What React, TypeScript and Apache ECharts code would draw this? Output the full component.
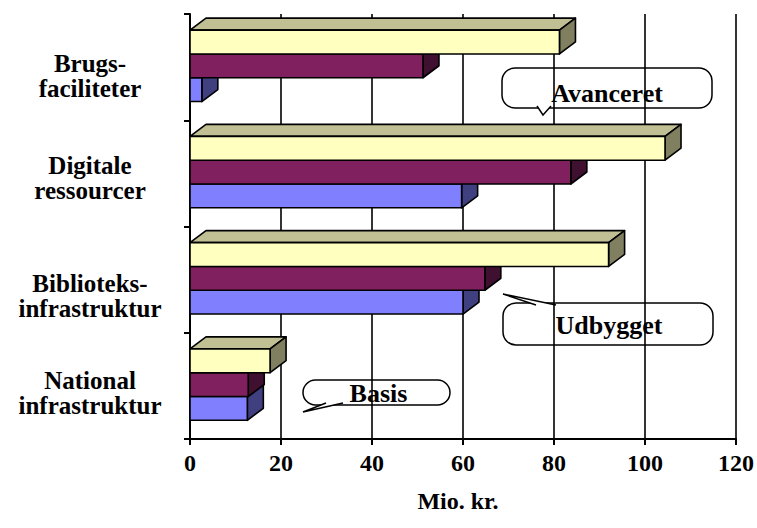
import React, { useEffect, useRef } from "react";
import * as echarts from "echarts";

// ---- data ----
const categories = [
  "National\ninfrastruktur",
  "Biblioteks-\ninfrastruktur",
  "Digitale\nressourcer",
  "Brugs-\nfaciliteter",
];
const basis = [12.6, 60, 59.7, 2.6];
const udbygget = [12.8, 64.8, 83.7, 51.2];
const avanceret = [17.6, 92, 104.4, 81.2];
const seriesNames = ["Basis", "Udbygget", "Avanceret"];
const xMin = 0;
const xMax = 120;
const xStep = 20;
const axisTitle = "Mio. kr.";

const FONT = "Liberation Serif";
// vertical label shift (px) per category, to mimic the original layout
const labelShift = [7, 16, 5, 9];

type Face = { front: string; top: string; side: string };

const makeRender = (slot: number, c: Face) => (params: any, api: any) => {
  const cat = api.value(0);
  const val = api.value(1);
  const start = api.coord([0, cat]);
  const end = api.coord([val, cat]);
  const bandH = api.size([0, 1])[1];
  const bandTop = start[1] - bandH / 2;
  const barH = bandH * 0.224;
  const y0 = bandTop + bandH * 0.152 + slot * barH;
  const y1 = y0 + barH;
  const x0 = start[0];
  const x1 = end[0];
  const dx = 16;
  const dy = 12;
  const st = { stroke: "#000", lineWidth: 1.6, lineJoin: "round" };
  return {
    type: "group",
    children: [
      {
        type: "polygon",
        shape: { points: [[x0, y0], [x0 + dx, y0 - dy], [x1 + dx, y0 - dy], [x1, y0]] },
        style: { fill: c.top, ...st },
      },
      {
        type: "polygon",
        shape: { points: [[x1, y0], [x1 + dx, y0 - dy], [x1 + dx, y1 - dy], [x1, y1]] },
        style: { fill: c.side, ...st },
      },
      {
        type: "rect",
        shape: { x: x0, y: y0, width: x1 - x0, height: y1 - y0 },
        style: { fill: c.front, ...st },
      },
    ],
  };
};

const callout = (
  box: { x: number; y: number; w: number; h: number },
  tail: number[][],
  label: string,
  tdx: number,
  tdy: number
) => {
  const [a, tip, b] = tail;
  return {
    type: "group",
    children: [
      {
        type: "rect",
        shape: { x: box.x, y: box.y, width: box.w, height: box.h, r: 13 },
        style: { fill: "none", stroke: "#000", lineWidth: 1.5 },
        z: 100,
      },
      {
        type: "polygon",
        shape: { points: [a, tip, b] },
        style: { fill: "#fff", stroke: "none" },
        z: 101,
      },
      {
        type: "polyline",
        shape: { points: [a, tip, b] },
        style: { fill: "none", stroke: "#000", lineWidth: 1.5 },
        z: 102,
      },
      {
        type: "text",
        x: box.x + box.w / 2 + tdx,
        y: box.y + box.h / 2 + tdy,
        style: {
          text: label,
          font: `bold 26px ${FONT}`,
          fill: "#000",
          textAlign: "center",
          textVerticalAlign: "middle",
        },
        z: 103,
      },
    ],
  };
};

export default function App() {
  const ref = useRef<HTMLDivElement>(null);
  useEffect(() => {
    if (!ref.current) return;
    const chart = echarts.init(ref.current, null, { renderer: "svg" });
    const faces: Face[] = [
      { front: "#8080FF", top: "#6060C0", side: "#404080" },
      { front: "#80205F", top: "#601848", side: "#401030" },
      { front: "#FFFFC0", top: "#C0C094", side: "#808060" },
    ];
    const slots = [2, 1, 0];
    const values = [basis, udbygget, avanceret];
    chart.setOption({
      animation: false,
      backgroundColor: "#fff",
      grid: { left: 190, right: 20, top: 14, bottom: 89 },
      xAxis: {
        type: "value",
        min: xMin,
        max: xMax,
        interval: xStep,
        axisLine: { show: true, lineStyle: { color: "#000", width: 2 } },
        axisTick: { show: true, length: 6, lineStyle: { color: "#000", width: 2 } },
        splitLine: { show: true, lineStyle: { color: "#000", width: 1.6 } },
        axisLabel: {
          color: "#000",
          fontFamily: FONT,
          fontWeight: "bold",
          fontSize: 24,
          margin: 12,
        },
        name: axisTitle,
        nameLocation: "middle",
        nameGap: 50,
        nameTextStyle: {
          color: "#000",
          fontFamily: FONT,
          fontWeight: "bold",
          fontSize: 24,
          padding: [0, 10, 0, 0],
        },
      },
      yAxis: {
        type: "category",
        data: categories,
        axisLine: { show: true, lineStyle: { color: "#000", width: 2 } },
        axisTick: { show: true, length: 6, lineStyle: { color: "#000", width: 2 } },
        splitLine: { show: false },
        axisLabel: { show: false },
      },
      series: values.map((vals, s) => ({
        type: "custom",
        name: seriesNames[s],
        renderItem: makeRender(slots[s], faces[s]),
        encode: { x: 1, y: 0 },
        data: vals.map((v, i) => [i, v]),
        z: 2 + s,
      })),
    });

    const catLabels = categories.map((c, i) => {
      const y = chart.convertToPixel({ yAxisIndex: 0 }, i) as number;
      return {
        type: "text",
        x: 90,
        y: y + labelShift[i],
        style: {
          text: c,
          font: `bold 25px ${FONT}`,
          lineHeight: 25,
          fill: "#000",
          textAlign: "center",
          textVerticalAlign: "middle",
        },
      };
    });

    chart.setOption({
      graphic: [
        ...catLabels,
        callout(
          { x: 502, y: 68, w: 210, h: 40 },
          [[537, 106], [543, 115], [551, 106]],
          seriesNames[2],
          0,
          5
        ),
        callout(
          { x: 503, y: 303, w: 210, h: 42 },
          [[536, 305], [503, 294], [556, 305]],
          seriesNames[1],
          1,
          1
        ),
        callout(
          { x: 303, y: 380, w: 147, h: 25 },
          [[326, 403], [303, 412], [343, 403]],
          seriesNames[0],
          2,
          1
        ),
      ],
    });
    return () => chart.dispose();
  }, []);
  return (
    <div
      ref={ref}
      style={{ position: "fixed", left: 0, top: 0, width: 757, height: 528 }}
    />
  );
}
